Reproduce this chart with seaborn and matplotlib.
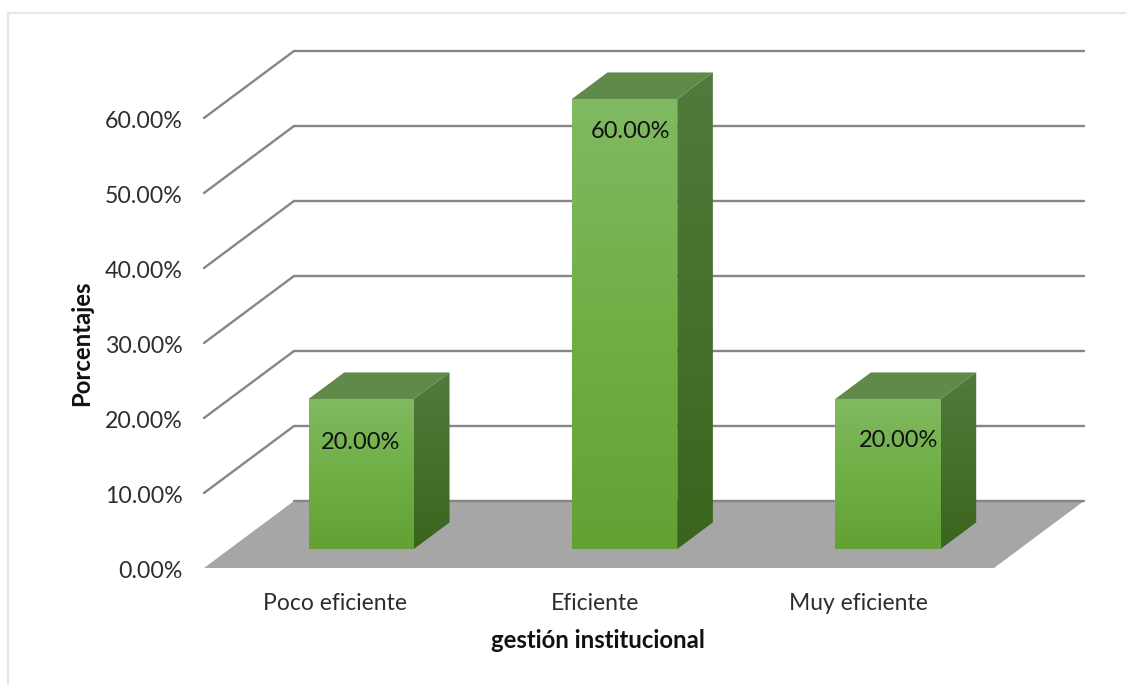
import numpy as np
import pandas as pd
import matplotlib
matplotlib.use("Agg")
import matplotlib.pyplot as plt
from matplotlib.colors import LinearSegmentedColormap
from matplotlib.lines import Line2D
from matplotlib.patches import Polygon
from matplotlib.transforms import ScaledTranslation
import seaborn as sns

# Survey results
categories = ["Poco eficiente", "Eficiente", "Muy eficiente"]
percentages = [20.0, 60.0, 20.0]
tick_values = [0, 10, 20, 30, 40, 50, 60]
x_title = "gestión institucional"
y_title = "Porcentajes"

# Figure layout, in pixels
W, H = 1126, 685
DPI = 100
PLANE_LEFT, PLANE_RIGHT = 204, 994
PLANE_BOTTOM, PLANE_TOP = 568, 118
DEPTH_DX, DEPTH_DY = 90, 67

sns.set_theme(style="white")
plt.rcParams["font.family"] = ["Lato", "DejaVu Sans"]

fig = plt.figure(figsize=(W / DPI, H / DPI), dpi=DPI, facecolor="white")
ax = fig.add_axes([PLANE_LEFT / W, 1 - PLANE_BOTTOM / H,
                   (PLANE_RIGHT - PLANE_LEFT) / W, (PLANE_BOTTOM - PLANE_TOP) / H])

frame = pd.DataFrame({"category": categories, "percentage": percentages})
BAR_WIDTH = 0.40
sns.barplot(data=frame, x="category", y="percentage", color="#70AF45", saturation=1,
            width=BAR_WIDTH, ax=ax, zorder=3)
bars = list(ax.patches)

XMIN, XMAX, YMIN, YMAX = -0.5, 2.5, 0, 60
x_per_px = (XMAX - XMIN) / (PLANE_RIGHT - PLANE_LEFT)
y_per_px = (YMAX - YMIN) / (PLANE_BOTTOM - PLANE_TOP)
depth_x = DEPTH_DX * x_per_px
depth_y = DEPTH_DY * y_per_px


def project(x, y, depth):
    """Oblique projection: push a data point back along the depth axis."""
    return x + depth * depth_x, y + depth * depth_y


GRID = "#868686"
# Floor of the chart box
floor = [project(XMIN, 0, 0), project(XMAX, 0, 0), project(XMAX, 0, 1), project(XMIN, 0, 1)]
ax.add_patch(Polygon(floor, closed=True, facecolor="#A6A6A6", edgecolor="none",
                     zorder=1, clip_on=False))

# Gridlines running along the side wall and the back wall
for value in tick_values:
    sx, sy = project(XMIN, value, 1)
    ex, ey = project(XMAX, value, 1)
    ax.add_line(Line2D([sx, ex], [sy, ey], color=GRID, lw=1.7, zorder=2, clip_on=False))
    if value > 0:
        fx, fy = project(XMIN, value, 0)
        ax.add_line(Line2D([fx, sx], [fy, sy], color=GRID, lw=1.7, zorder=2, clip_on=False))

front_cmap = LinearSegmentedColormap.from_list("front", ["#80BA62", "#70AF45", "#63A135"])
side_cmap = LinearSegmentedColormap.from_list("side", ["#527A3E", "#47702C", "#3A651D"])
ramp = np.linspace(0, 1, 256).reshape(-1, 1)

BAR_NEAR, BAR_FAR = 0.284, 0.68


def shaded(points, cmap, zorder):
    """Fill a polygon with a vertical colour ramp."""
    shape = Polygon(points, closed=True, facecolor="none", edgecolor="none", zorder=zorder)
    ax.add_patch(shape)
    xs, ys = zip(*points)
    im = ax.imshow(ramp, cmap=cmap, aspect="auto", origin="upper",
                   extent=(min(xs), max(xs), min(ys), max(ys)), zorder=zorder)
    im.set_clip_path(shape)
    im.set_clip_box(fig.bbox)


for bar in bars:
    left = bar.get_x()
    right = left + BAR_WIDTH
    value = bar.get_height()
    a = project(left, 0, BAR_NEAR)
    b = project(right, 0, BAR_NEAR)
    c = project(right, value, BAR_NEAR)
    d = project(left, value, BAR_NEAR)
    e = project(right, 0, BAR_FAR)
    f = project(right, value, BAR_FAR)
    g = project(left, value, BAR_FAR)
    bar.set_visible(False)
    shaded([a, b, c, d], front_cmap, 4)
    shaded([b, e, f, c], side_cmap, 4)
    ax.add_patch(Polygon([d, c, f, g], closed=True, facecolor="#5F8A4A",
                         edgecolor="none", zorder=4, clip_on=False))

# Value labels on the front faces, dropped from each bar's top edge (pixels)
label_drop = [44, 33, 42]
label_shift = [-1, 6, 11]
for i, value in enumerate(percentages):
    bx, by = project(i, value, BAR_NEAR)
    ax.annotate(f"{value:.2f}%", xy=(bx, by), xycoords="data",
                xytext=(label_shift[i] * 72 / DPI, -label_drop[i] * 72 / DPI),
                textcoords="offset points", ha="center", va="center",
                fontsize=17, color="#111111", zorder=6, annotation_clip=False)

ax.set_xlim(XMIN, XMAX)
ax.set_ylim(YMIN, YMAX)
ax.set_yticks(tick_values)
ax.set_yticklabels([f"{v:.2f}%" for v in tick_values], fontsize=16.7, color="#2E2E2E")
ax.tick_params(axis="y", length=0, pad=21 * 72 / DPI)
ax.set_xticks(range(len(categories)))
ax.set_xticklabels(categories, fontsize=16.5, color="#2E2E2E")
ax.tick_params(axis="x", length=0, pad=25 * 72 / DPI)
ax.set_xlabel("")
ax.set_ylabel("")
sns.despine(ax=ax, left=True, bottom=True)

# Small nudges to the tick labels, in pixels
for label in ax.get_yticklabels():
    label.set_transform(label.get_transform() + ScaledTranslation(0, -1.5 / DPI, fig.dpi_scale_trans))
for label, nudge in zip(ax.get_xticklabels(), [-1, -4, -4]):
    label.set_transform(label.get_transform() + ScaledTranslation(nudge / DPI, 0, fig.dpi_scale_trans))

fig.text(598 / W, 1 - 641 / H, x_title, ha="center", va="center",
         fontsize=17.2, fontweight="bold", color="#111111")
fig.text(82 / W, 1 - 343 / H, y_title, ha="center", va="center", rotation=90,
         fontsize=17.2, fontweight="bold", color="#111111")

# Thin outer frame on the top and left edges
frame_color = "#E3E8F0"
fig.add_artist(Line2D([8 / W, 8 / W], [0, 1 - 13 / H], color=frame_color, lw=1.6))
fig.add_artist(Line2D([8 / W, 1], [1 - 13 / H, 1 - 13 / H], color=frame_color, lw=1.6))

fig.savefig("out.png", dpi=DPI, facecolor="white")
